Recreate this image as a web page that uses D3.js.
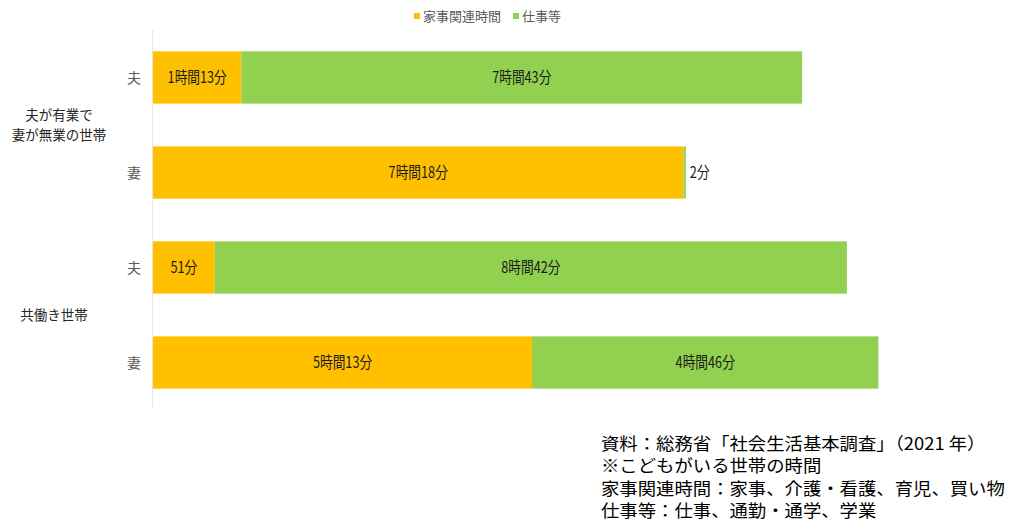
<!DOCTYPE html>
<html>
<head>
<meta charset="utf-8">
<script src="https://cdn.jsdelivr.net/npm/d3@7"></script>
<style>
body { margin: 0; background: #fff; }
svg { font-family: "Noto Sans CJK JP", "Noto Sans", sans-serif; }
</style>
</head>
<body>
<script>
// minutes per day
var rows = ["g1夫", "g1妻", "g2夫", "g2妻"];
var rowNames = ["夫", "妻", "夫", "妻"];
var houseWork = [73, 438, 51, 313];
var work = [463, 2, 522, 286];
var seriesNames = ["家事関連時間", "仕事等"];
var groupNames = [["夫が有業で", "妻が無業の世帯"], ["共働き世帯"]];
var notes = [" 資料：総務省「社会生活基本調査」（2021 年）", "※こどもがいる世帯の時間", "家事関連時間：家事、介護・看護、育児、買い物", "仕事等：仕事、通勤・通学、学業"];

var colors = ["#FFC000", "#92D050"];

function fmt(m) {
  var h = Math.floor(m / 60), mm = m % 60;
  return (h > 0 ? h + "時間" : "") + mm + "分";
}

var W = 1018, H = 522;
var svg = d3.select("body").append("svg").attr("width", W).attr("height", H);

var x = d3.scaleLinear().domain([0, 100]).range([153, 153 + 121.1]);
var y = d3.scaleBand().domain(rows).range([30, 410]).paddingInner(0.45).paddingOuter(0.225);

// axis line
svg.append("line").attr("x1", 152.5).attr("x2", 152.5).attr("y1", 30).attr("y2", 409)
  .attr("stroke", "#e6e6e6").attr("stroke-width", 1);

var data = rows.map(function(r, i) { return {key: r, name: rowNames[i], a: houseWork[i], b: work[i]}; });

var g = svg.append("g");
data.forEach(function(d) {
  var y0 = y(d.key), bh = y.bandwidth();
  g.append("rect").attr("x", x(0)).attr("y", y0).attr("width", x(d.a) - x(0)).attr("height", bh).attr("fill", colors[0]);
  g.append("rect").attr("x", x(d.a)).attr("y", y0).attr("width", x(d.a + d.b) - x(d.a)).attr("height", bh).attr("fill", colors[1]);

  function label(cx, txt, anchor) {
    g.append("text").attr("transform", "translate(" + cx + "," + (y0 + bh / 2 + 5.5) + ") scale(0.82,1)")
      .attr("text-anchor", anchor).attr("font-size", 15.5).attr("fill", "#1a1a1a").text(txt);
  }
  label((x(0) + x(d.a)) / 2, fmt(d.a), "middle");
  if (x(d.a + d.b) - x(d.a) > 30) label((x(d.a) + x(d.a + d.b)) / 2, fmt(d.b), "middle");
  else label(x(d.a + d.b) + 4, fmt(d.b), "start");

  svg.append("text").attr("x", 141).attr("y", y0 + bh / 2 + 5).attr("text-anchor", "end")
    .attr("font-size", 14).attr("fill", "#595959").text(d.name);
});

// group labels
var gy = [(y(rows[0]) + y(rows[1]) + y.bandwidth()) / 2, (y(rows[2]) + y(rows[3]) + y.bandwidth()) / 2];
var gx = [59, 54];
groupNames.forEach(function(lines, i) {
  var t = svg.append("text").attr("text-anchor", "middle").attr("font-size", 13.5).attr("fill", "#262626");
  var start = gy[i] - (lines.length - 1) * 10 + 5;
  lines.forEach(function(l, j) {
    t.append("tspan").attr("x", gx[i]).attr("y", start + j * 20).text(l);
  });
});

// legend
var leg = svg.append("g").attr("font-size", 13).attr("fill", "#595959");
var lx = [414, 513];
seriesNames.forEach(function(s, i) {
  leg.append("rect").attr("x", lx[i]).attr("y", 13).attr("width", 6).attr("height", 6).attr("fill", colors[i]);
  leg.append("text").attr("x", lx[i] + 9).attr("y", 21).text(s);
});

// notes
notes.forEach(function(n, i) {
  svg.append("text").attr("transform", "translate(601," + (450 + i * 22.3) + ") scale(1.08,1)")
    .attr("font-size", 17).attr("fill", "#000").text(n);
});
</script>
</body>
</html>
